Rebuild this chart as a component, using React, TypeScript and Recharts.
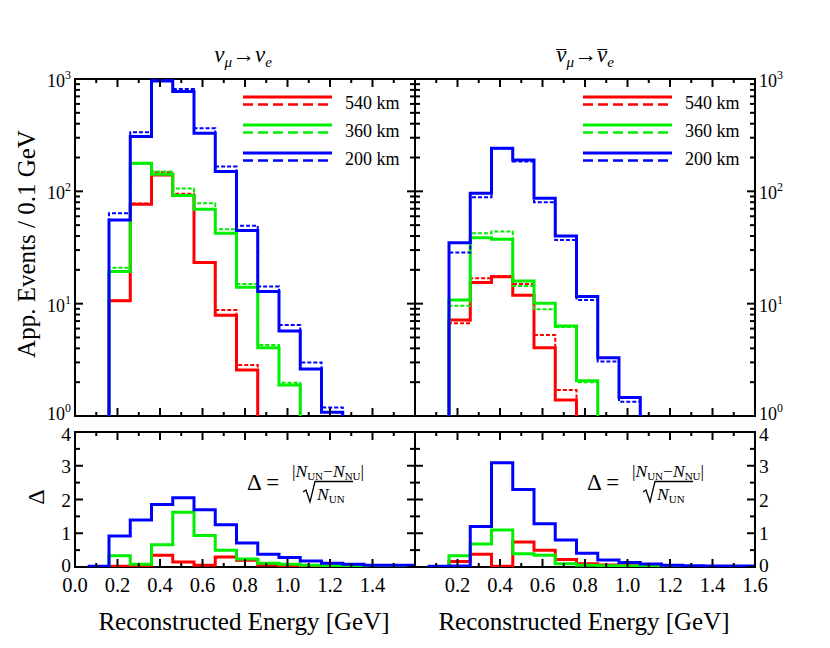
import React from 'react';
import { LineChart, Line, XAxis, YAxis } from 'recharts';

// bin lower edges [GeV]; last entry closes the final bin
const edges = [0.06, 0.16, 0.26, 0.36, 0.46, 0.56, 0.66, 0.76, 0.86, 0.96, 1.06, 1.16, 1.26, 1.36, 1.46, 1.56, 1.66];
const xTicks = [0, 0.1, 0.2, 0.3, 0.4, 0.5, 0.6, 0.7, 0.8, 0.9, 1.0, 1.1, 1.2, 1.3, 1.4, 1.5, 1.6];
const xLabelsLeft = [0, 0.2, 0.4, 0.6, 0.8, 1.0, 1.2, 1.4];
const xLabelsRight = [0.2, 0.4, 0.6, 0.8, 1.0, 1.2, 1.4, 1.6];
const logTicks = [1, 2, 3, 4, 5, 6, 7, 8, 9, 10, 20, 30, 40, 50, 60, 70, 80, 90, 100, 200, 300, 400, 500, 600, 700, 800, 900, 1000];
const deltaTicks = [0, 0.5, 1, 1.5, 2, 2.5, 3, 3.5, 4];
const distances = ['540 km', '360 km', '200 km'];
const colors = ['#ff0000', '#00ee00', '#0000ff'];

// nu_mu -> nu_e appearance events per bin (solid / dashed)
const nuRed = [0, 10.6, 76.8, 140, 92, 23.2, 7.9, 2.57, 0, 0, 0, 0, 0, 0, 0, 0];
const nuRedDash = [0, 10.6, 78, 148, 95, 23.5, 8.8, 2.85, 0, 0, 0, 0, 0, 0, 0, 0];
const nuGreen = [0, 19.3, 178, 142, 91.6, 69.3, 42.4, 14.0, 4.06, 1.89, 0, 0, 0, 0, 0, 0];
const nuGreenDash = [0, 20.9, 176, 150, 106, 78.4, 46, 15.0, 4.29, 1.98, 0, 0, 0, 0, 0, 0];
const nuBlue = [0, 55.6, 307, 960, 773, 329, 150, 44.7, 12.8, 5.7, 2.62, 1.08, 0, 0, 0, 0];
const nuBlueDash = [0, 63.8, 336, 990, 816, 365, 166, 49.5, 14.2, 6.46, 3.0, 1.19, 0, 0, 0, 0];

// anti-nu_mu -> anti-nu_e
const nubarRed = [0, 7.16, 15.4, 17.4, 11.9, 4.06, 1.39, 0, 0, 0, 0, 0, 0, 0, 0, 0];
const nubarRedDash = [0, 6.69, 16.8, 17.6, 15.0, 5.26, 1.7, 0, 0, 0, 0, 0, 0, 0, 0, 0];
const nubarGreen = [0, 10.8, 38.7, 37.5, 15.9, 10.1, 6.33, 2.06, 0, 0, 0, 0, 0, 0, 0, 0];
const nubarGreenDash = [0, 9.6, 42.4, 43.8, 14.4, 8.9, 6.2, 2.0, 0, 0, 0, 0, 0, 0, 0, 0];
const nubarBlue = [0, 34.9, 96, 242, 190, 86.8, 40, 11.6, 3.3, 1.46, 0, 0, 0, 0, 0, 0];
const nubarBlueDash = [0, 28.5, 88.5, 240, 184, 80, 36.9, 10.8, 3.05, 1.34, 0, 0, 0, 0, 0, 0];

// Delta per bin
const deltaNuRed = [0, 0.02, 0.02, 0.35, 0.15, 0.05, 0.3, 0.2, 0.06, 0.03, 0.02, 0.02, 0.01, 0.01, 0.01, 0.01];
const deltaNuGreen = [0, 0.33, 0.08, 0.66, 1.62, 0.93, 0.5, 0.24, 0.11, 0.08, 0.05, 0.04, 0.03, 0.02, 0.02, 0.02];
const deltaNuBlue = [0.02, 0.92, 1.39, 1.85, 2.05, 1.7, 1.25, 0.71, 0.38, 0.28, 0.18, 0.11, 0.08, 0.05, 0.05, 0.05];
const deltaNubarRed = [0, 0.16, 0.38, 0.02, 0.74, 0.5, 0.22, 0.1, 0.06, 0.04, 0.02, 0.02, 0.01, 0.01, 0.01, 0.01];
const deltaNubarGreen = [0, 0.33, 0.68, 1.1, 0.39, 0.35, 0.1, 0.05, 0.04, 0.03, 0.02, 0.02, 0.01, 0.01, 0.01, 0.01];
const deltaNubarBlue = [0.02, 0.03, 1.2, 3.09, 2.3, 1.28, 0.8, 0.41, 0.21, 0.13, 0.09, 0.05, 0.04, 0.03, 0.03, 0.03];

const FONT = '"Liberation Serif", "DejaVu Serif", serif';
const W = 830;
const H = 648;

type Series = { key: string; values: number[]; color: string; dashed?: boolean };

// one row per bin edge, last bin value repeated on the closing edge
const buildRows = (series: Series[], floor?: number) =>
  edges.map((e, i) => {
    const row: any = { e };
    series.forEach((s) => {
      const v = s.values[Math.min(i, s.values.length - 1)];
      row[s.key] = floor !== undefined ? Math.max(v, floor) : v;
    });
    return row;
  });

const makeXTick = (h: number, labels: number[]) => (p: any) => {
  const { x, y, payload } = p;
  const v = payload.value;
  const major = Math.round(v * 10) % 2 === 0;
  const len = major ? 8 : 4;
  const show = labels.some((l) => Math.abs(l - v) < 1e-6);
  return (
    <g>
      <line x1={x} x2={x} y1={y} y2={y - len} stroke="#000" strokeWidth={2} />
      <line x1={x} x2={x} y1={y - h} y2={y - h + len} stroke="#000" strokeWidth={2} />
      {show && (
        <text x={x} y={y + 25} textAnchor="middle" fontSize={20.5} fontFamily={FONT} fill="#000">
          {v.toFixed(1)}
        </text>
      )}
    </g>
  );
};

const makeYTick = (w: number, side: 'left' | 'right', log: boolean) => (p: any) => {
  const { x, y, payload } = p;
  const v = payload.value;
  let major: boolean;
  let label: React.ReactNode = null;
  let dy = 7;
  if (log) {
    const ex = Math.log10(v);
    major = Math.abs(ex - Math.round(ex)) < 1e-6;
    dy = Math.round(ex) === 0 ? 4 : 8;
    if (major)
      label = (
        <>
          10
          <tspan dy={-8} fontSize={12}>
            {Math.round(ex)}
          </tspan>
        </>
      );
  } else {
    major = Math.abs(v - Math.round(v)) < 1e-6;
    dy = v === 4 ? 9 : v === 0 ? 5 : 7;
    if (major) label = String(v);
  }
  const len = major ? 8 : 5;
  const lx = side === 'left' ? x - 4 : x + w + 4;
  return (
    <g>
      <line x1={x} x2={x + len} y1={y} y2={y} stroke="#000" strokeWidth={2} />
      <line x1={x + w} x2={x + w - len} y1={y} y2={y} stroke="#000" strokeWidth={2} />
      {label !== null && (
        <text
          x={lx}
          y={y + dy}
          textAnchor={side === 'left' ? 'end' : 'start'}
          fontSize={log ? 18 : 19.5}
          fontFamily={FONT}
          fill="#000"
        >
          {label}
        </text>
      )}
    </g>
  );
};

interface PanelProps {
  left: number;
  top: number;
  w: number;
  h: number;
  log: boolean;
  series: Series[];
  xLabels: number[];
  side: 'left' | 'right';
}

const Panel = ({ left, top, w, h, log, series, xLabels, side }: PanelProps) => {
  const rows = buildRows(series, log ? 0.001 : undefined);
  // axes take 1px each, so the margins are shrunk by one
  return (
    <div style={{ position: 'absolute', left: 0, top: 0 }}>
      <LineChart
        width={W}
        height={H}
        data={rows}
        margin={{ top, left: left - 1, right: W - left - w, bottom: H - top - h - 1 }}
      >
        <XAxis
          dataKey="e"
          type="number"
          domain={[0, 1.6]}
          ticks={xTicks}
          interval={0}
          allowDataOverflow
          height={1}
          tickSize={0}
          tickMargin={0}
          axisLine={false}
          tickLine={false}
          tick={makeXTick(h, xLabels)}
        />
        <YAxis
          type="number"
          scale={log ? 'log' : 'linear'}
          domain={log ? [1, 1000] : [0, 4]}
          ticks={log ? logTicks : deltaTicks}
          interval={0}
          allowDataOverflow
          width={1}
          tickSize={0}
          tickMargin={0}
          axisLine={false}
          tickLine={false}
          tick={makeYTick(w, side, log)}
        />
        {series.map((s) => (
          <Line
            key={s.key}
            dataKey={s.key}
            type="stepAfter"
            stroke={s.color}
            strokeWidth={s.dashed ? 2 : 3}
            strokeDasharray={s.dashed ? '4 2' : undefined}
            dot={false}
            activeDot={false}
            isAnimationActive={false}
          />
        ))}
      </LineChart>
    </div>
  );
};

const histSeries = (vals: number[][]): Series[] => {
  const out: Series[] = [];
  for (let i = 0; i < 3; i++) {
    out.push({ key: `s${i}`, values: vals[i * 2], color: colors[i] });
    out.push({ key: `d${i}`, values: vals[i * 2 + 1], color: colors[i], dashed: true });
  }
  return out;
};

const deltaSeries = (vals: number[][]): Series[] =>
  vals.map((v, i) => ({ key: `s${i}`, values: v, color: colors[i] }));

const Legend = ({ dx }: { dx: number }) => (
  <g>
    {distances.map((d, i) => (
      <g key={d}>
        <line x1={243 + dx} x2={332 + dx} y1={97 + i * 28} y2={97 + i * 28} stroke={colors[i]} strokeWidth={3} />
        <line
          x1={243 + dx}
          x2={332 + dx}
          y1={104.5 + i * 28}
          y2={104.5 + i * 28}
          stroke={colors[i]}
          strokeWidth={2.5}
          strokeDasharray="10 5"
        />
        <text x={345 + dx} y={109 + i * 28} fontSize={18} fontFamily={FONT} fill="#000">
          {d}
        </text>
      </g>
    ))}
  </g>
);

const Formula = ({ dx }: { dx: number }) => (
  <g fontFamily={FONT} fill="#000">
    <text x={247 + dx} y={490} fontSize={23}>
      Δ =
    </text>
    <text x={328 + dx} y={477} textAnchor="middle" fontSize={17.5}>
      |<tspan fontStyle="italic">N</tspan>
      <tspan fontSize={11} dy={3}>UN</tspan>
      <tspan dy={-3}>−</tspan>
      <tspan fontStyle="italic">N</tspan>
      <tspan fontSize={11} dy={3}>NU</tspan>
      <tspan dy={-3}>|</tspan>
    </text>
    <path
      d={`M ${303 + dx} 492 L ${306 + dx} 490 L ${310 + dx} 502 L ${315 + dx} 481.5 L ${353 + dx} 481.5`}
      stroke="#000"
      strokeWidth={1.3}
      fill="none"
    />
    <text x={317 + dx} y={500} fontSize={17.5}>
      <tspan fontStyle="italic">N</tspan>
      <tspan fontSize={11} dy={3}>UN</tspan>
    </text>
  </g>
);

const sub: React.CSSProperties = { fontSize: 15, verticalAlign: 'baseline', position: 'relative', top: 5 };
const bar: React.CSSProperties = { display: 'inline-block', lineHeight: '10px', borderTop: '1.5px solid #000' };

export default function App() {
  const frames = [
    [75, 79, 340, 337],
    [415, 79, 340, 337],
    [75, 432, 340, 135],
    [415, 432, 340, 135],
  ];
  return (
    <div style={{ position: 'absolute', left: 0, top: 0, width: W, height: H, background: '#fff', fontFamily: FONT }}>
      <svg width={W} height={H} style={{ position: 'absolute', left: 0, top: 0 }}>
        {frames.map(([x, y, w, h], i) => (
          <rect key={i} x={x} y={y} width={w} height={h} fill="none" stroke="#000" strokeWidth={2} />
        ))}
      </svg>

      <Panel
        left={75}
        top={79}
        w={340}
        h={337}
        log
        side="left"
        xLabels={[]}
        series={histSeries([nuRed, nuRedDash, nuGreen, nuGreenDash, nuBlue, nuBlueDash])}
      />
      <Panel
        left={415}
        top={79}
        w={340}
        h={337}
        log
        side="right"
        xLabels={[]}
        series={histSeries([nubarRed, nubarRedDash, nubarGreen, nubarGreenDash, nubarBlue, nubarBlueDash])}
      />
      <Panel
        left={75}
        top={432}
        w={340}
        h={135}
        log={false}
        side="left"
        xLabels={xLabelsLeft}
        series={deltaSeries([deltaNuRed, deltaNuGreen, deltaNuBlue])}
      />
      <Panel
        left={415}
        top={432}
        w={340}
        h={135}
        log={false}
        side="right"
        xLabels={xLabelsRight}
        series={deltaSeries([deltaNubarRed, deltaNubarGreen, deltaNubarBlue])}
      />

      <svg width={W} height={H} style={{ position: 'absolute', left: 0, top: 0 }}>
        <Legend dx={0} />
        <Legend dx={340} />
        <Formula dx={0} />
        <Formula dx={340} />
      </svg>

      {/* titles */}
      <div style={{ position: 'absolute', left: 243, top: 42, transform: 'translateX(-50%)', fontSize: 23, fontStyle: 'italic', whiteSpace: 'nowrap' }}>
        ν<span style={sub}>μ</span>→ν<span style={sub}>e</span>
      </div>
      <div style={{ position: 'absolute', left: 585, top: 42, transform: 'translateX(-50%)', fontSize: 23, fontStyle: 'italic', whiteSpace: 'nowrap' }}>
        <span style={bar}>ν</span>
        <span style={sub}>μ</span>→<span style={bar}>ν</span>
        <span style={sub}>e</span>
      </div>

      {/* axis titles */}
      <div style={{ position: 'absolute', left: 27, top: 244, transform: 'translate(-50%, -50%) rotate(-90deg)', fontSize: 25, whiteSpace: 'nowrap' }}>
        App. Events / 0.1 GeV
      </div>
      <div style={{ position: 'absolute', left: 36, top: 497, transform: 'translate(-50%, -50%) rotate(-90deg)', fontSize: 24 }}>
        Δ
      </div>
      <div style={{ position: 'absolute', left: 244, top: 622, transform: 'translate(-50%, -50%)', fontSize: 25, whiteSpace: 'nowrap' }}>
        Reconstructed Energy [GeV]
      </div>
      <div style={{ position: 'absolute', left: 584, top: 622, transform: 'translate(-50%, -50%)', fontSize: 25, whiteSpace: 'nowrap' }}>
        Reconstructed Energy [GeV]
      </div>
    </div>
  );
}
